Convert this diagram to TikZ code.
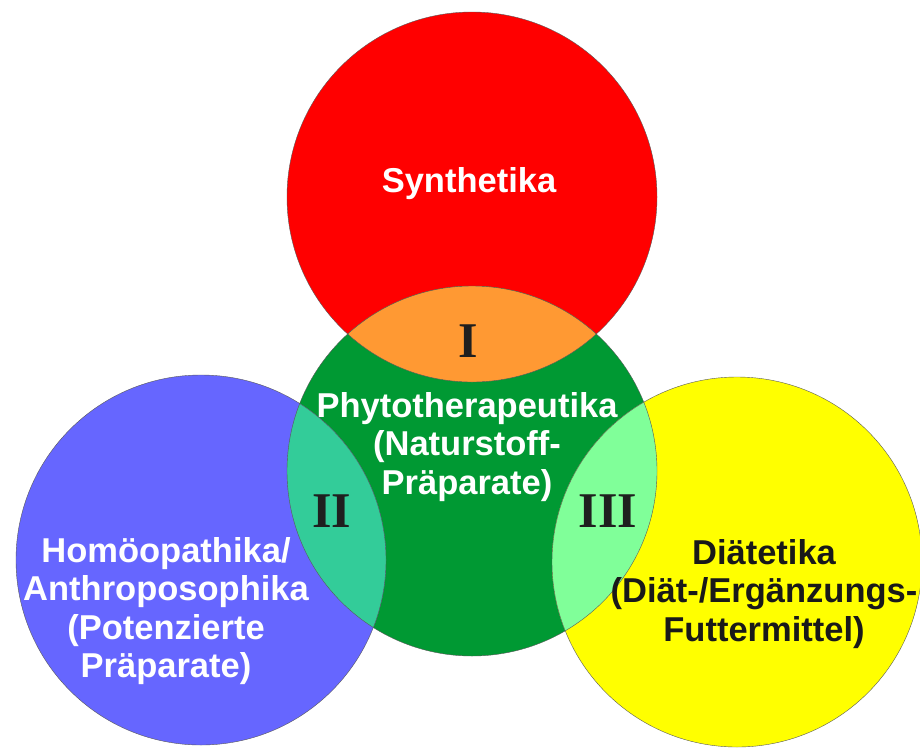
\documentclass[tikz,border=0pt]{standalone}
\usepackage{fontspec}
\setmainfont{Liberation Sans}
\newfontfamily\numfont{Liberation Serif}
\usetikzlibrary{positioning}
\usepackage{xcolor}
\definecolor{synred}{HTML}{FF0000}
\definecolor{phygreen}{HTML}{009933}
\definecolor{homblue}{HTML}{6666FF}
\definecolor{diayellow}{HTML}{FFFF00}
\definecolor{lensI}{HTML}{FF9933}
\definecolor{lensII}{HTML}{33CC99}
\definecolor{lensIII}{HTML}{80FF99}

\begin{document}
\begin{tikzpicture}[x=1pt, y=-1pt,
		disc/.style = {circle, minimum size=370pt, inner sep=0pt, outer sep=0pt},
		rim/.style = {draw=black!65, line width=0.4pt},
		txt/.style = {font=\bfseries\fontsize{34.5}{38.5}\selectfont, align=center, inner sep=0pt},
		num/.style = {font=\numfont\bfseries\fontsize{50}{50}\selectfont, text=black!88, inner sep=0pt}]
		\useasboundingbox (0,0) rectangle (920,747);
		% the four circles
		\node[disc, fill=synred] (syn) at (472,197) {};
		\node[disc, fill=phygreen] (phy) at (472,471) {};
		\node[disc, fill=homblue] (hom) at (201,560) {};
		\node[disc, fill=diayellow] (dia) at (737,562) {};
		% overlaps
		\begin{scope}
			\clip (syn.center) circle[radius=185pt];
			\fill[lensI] (phy.center) circle[radius=185pt];
		\end{scope}
		\begin{scope}
			\clip (hom.center) circle[radius=185pt];
			\fill[lensII] (phy.center) circle[radius=185pt];
		\end{scope}
		\begin{scope}
			\clip (dia.center) circle[radius=185pt];
			\fill[lensIII] (phy.center) circle[radius=185pt];
		\end{scope}
		\foreach \c in {syn,phy,hom,dia}
			\draw[rim] (\c.center) circle[radius=185pt];
		% texts
		\node[txt, text=white, anchor=base] (syntxt) at (469,192) {Synthetika};
		\node[txt, text=white] (phytxt) at (467,447) {Phytotherapeutika\\(Naturstoff-\\Präparate)};
		\node[txt, text=white] (homtxt) at (166,611) {Homöopathika/\\Anthroposophika\\(Potenzierte\\Präparate)};
		\node[txt, text=black!90] (diatxt) at (764,594) {Diätetika\\(Diät-/Ergänzungs-\\Futtermittel)};
		\node[num, anchor=base] (one) at (468,357) {I};
		\node[num, anchor=base] (two) at (332,527) {II};
		\node[num, anchor=base] (three) at (608,527) {III};
\end{tikzpicture}
\end{document}
